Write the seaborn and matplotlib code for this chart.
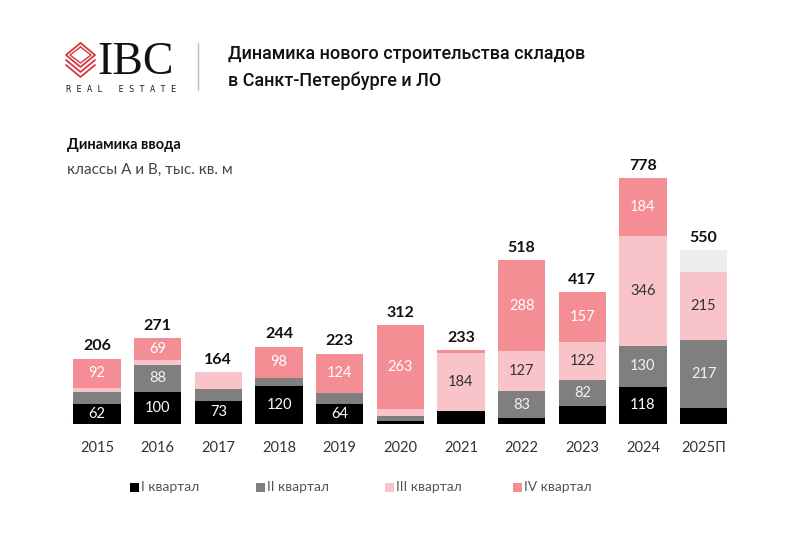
import numpy as np
import pandas as pd
import matplotlib
matplotlib.use("Agg")
import matplotlib.pyplot as plt
import matplotlib.patches as mpatches
import seaborn as sns

# data, тыс. кв. м
years = ["2015", "2016", "2017", "2018", "2019", "2020", "2021", "2022", "2023", "2024", "2025П"]
q1 = [62, 100, 73, 120, 64, 10, 42, 20, 56, 118, 50]
q2 = [39, 88, 37, 26, 35, 14, 0, 83, 82, 130, 217]
q3 = [13, 14, 54, 0, 0, 25, 184, 127, 122, 346, 215]
q4 = [92, 69, 0, 98, 124, 263, 7, 288, 157, 184, 0]
q4_forecast = [0, 0, 0, 0, 0, 0, 0, 0, 0, 0, 68]
totals = [206, 271, 164, 244, 223, 312, 233, 518, 417, 778, 550]
quarter_names = ["I квартал", "II квартал", "III квартал", "IV квартал"]

colors = ["#000000", "#7f7f7f", "#f9c4c9", "#f58d95"]
forecast_color = "#eeeeee"
label_colors = ["#ffffff", "#f2f2f2", "#333333", "#ffffff"]

sns.set_style("white")
plt.rcParams['font.family'] = ['Lato', 'DejaVu Sans']

fig = plt.figure(figsize=(8, 5.33), dpi=100)
fig.patch.set_facecolor("white")
ax = fig.add_axes([0.0834, 0.2045, 0.834, 0.514])
ax.patch.set_alpha(0)

series = [q1, q2, q3, q4, q4_forecast]
bottom = np.zeros(len(years))
for i, vals in enumerate(series):
    vals = np.array(vals, dtype=float)
    col = colors[i] if i < 4 else forecast_color
    sns.barplot(x=years, y=vals, bottom=bottom, color=col, width=0.78,
                saturation=1, linewidth=0, ax=ax)
    if i < 4:
        for j, v in enumerate(vals):
            if v >= 60:
                ax.text(j, bottom[j] + v / 2, str(int(v)), ha='center', va='center',
                        fontsize=10.5, color=label_colors[i])
    bottom = bottom + vals

for j, t in enumerate(totals):
    ax.text(j, t + 40, str(t), ha='center', va='center', fontsize=11.5,
            fontweight='bold', color='#111111')

ax.set_xlim(-0.5, len(years) - 0.5)
ax.set_ylim(0, 867)
ax.axhline(0, color='#e8e8e8', lw=1, zorder=0)
sns.despine(ax=ax, left=True, bottom=True)
ax.set_yticks([])
ax.tick_params(axis='x', length=0, pad=12, labelsize=10.5, labelcolor='#333333')
ax.set_xlabel("")
ax.set_ylabel("")

# overlay in pixel coords for header / logo / legend
ov = fig.add_axes([0, 0, 1, 1], zorder=-1)
ov.set_xlim(0, 800)
ov.set_ylim(533, 0)
ov.axis('off')

red = "#d7373f"
cx, top = 80.5, 43
ov.plot([cx, 95, cx, 66, cx], [top, top + 12, top + 24, top + 12, top], color=red, lw=1.3)
ov.plot([cx, 91, cx, 70, cx], [top + 4, top + 12, top + 20, top + 12, top + 4], color=red, lw=1.0)
for dy in (5, 10):
    ov.plot([66, cx, 95], [top + 12 + dy, top + 24 + dy, top + 12 + dy], color=red, lw=1.3)

ov.text(97, 74, "IBC", fontsize=33, family=['Liberation Serif'], color='#111111',
        ha='left', va='baseline')
ov.text(66, 90, "R E A L   E S T A T E", fontsize=6.2, family=['DejaVu Sans Mono'],
        color='#222222', ha='left', va='center')
ov.plot([198, 198], [43, 90], color='#bbbbbb', lw=1)

ov.text(228, 54, "Динамика нового строительства складов", fontsize=13,
        family=['Roboto', 'DejaVu Sans'], fontweight='medium', color='#111111', va='center')
ov.text(228, 81, "в Санкт-Петербурге и ЛО", fontsize=13,
        family=['Roboto', 'DejaVu Sans'], fontweight='medium', color='#111111', va='center')

ov.text(67, 145, "Динамика ввода", fontsize=10.5, fontweight='bold', color='#111111', va='center')
ov.text(67, 170, "классы А и В, тыс. кв. м", fontsize=11, color='#444444', va='center')

legend_x = [130, 256, 385, 513]
for name, col, lx in zip(quarter_names, colors, legend_x):
    ov.add_patch(mpatches.Rectangle((lx, 482.5), 9, 9, color=col, lw=0))
    ov.text(lx + 11, 487, name, fontsize=10, color='#555555', va='center', ha='left')

plt.savefig("out.png", dpi=100, facecolor="white")
